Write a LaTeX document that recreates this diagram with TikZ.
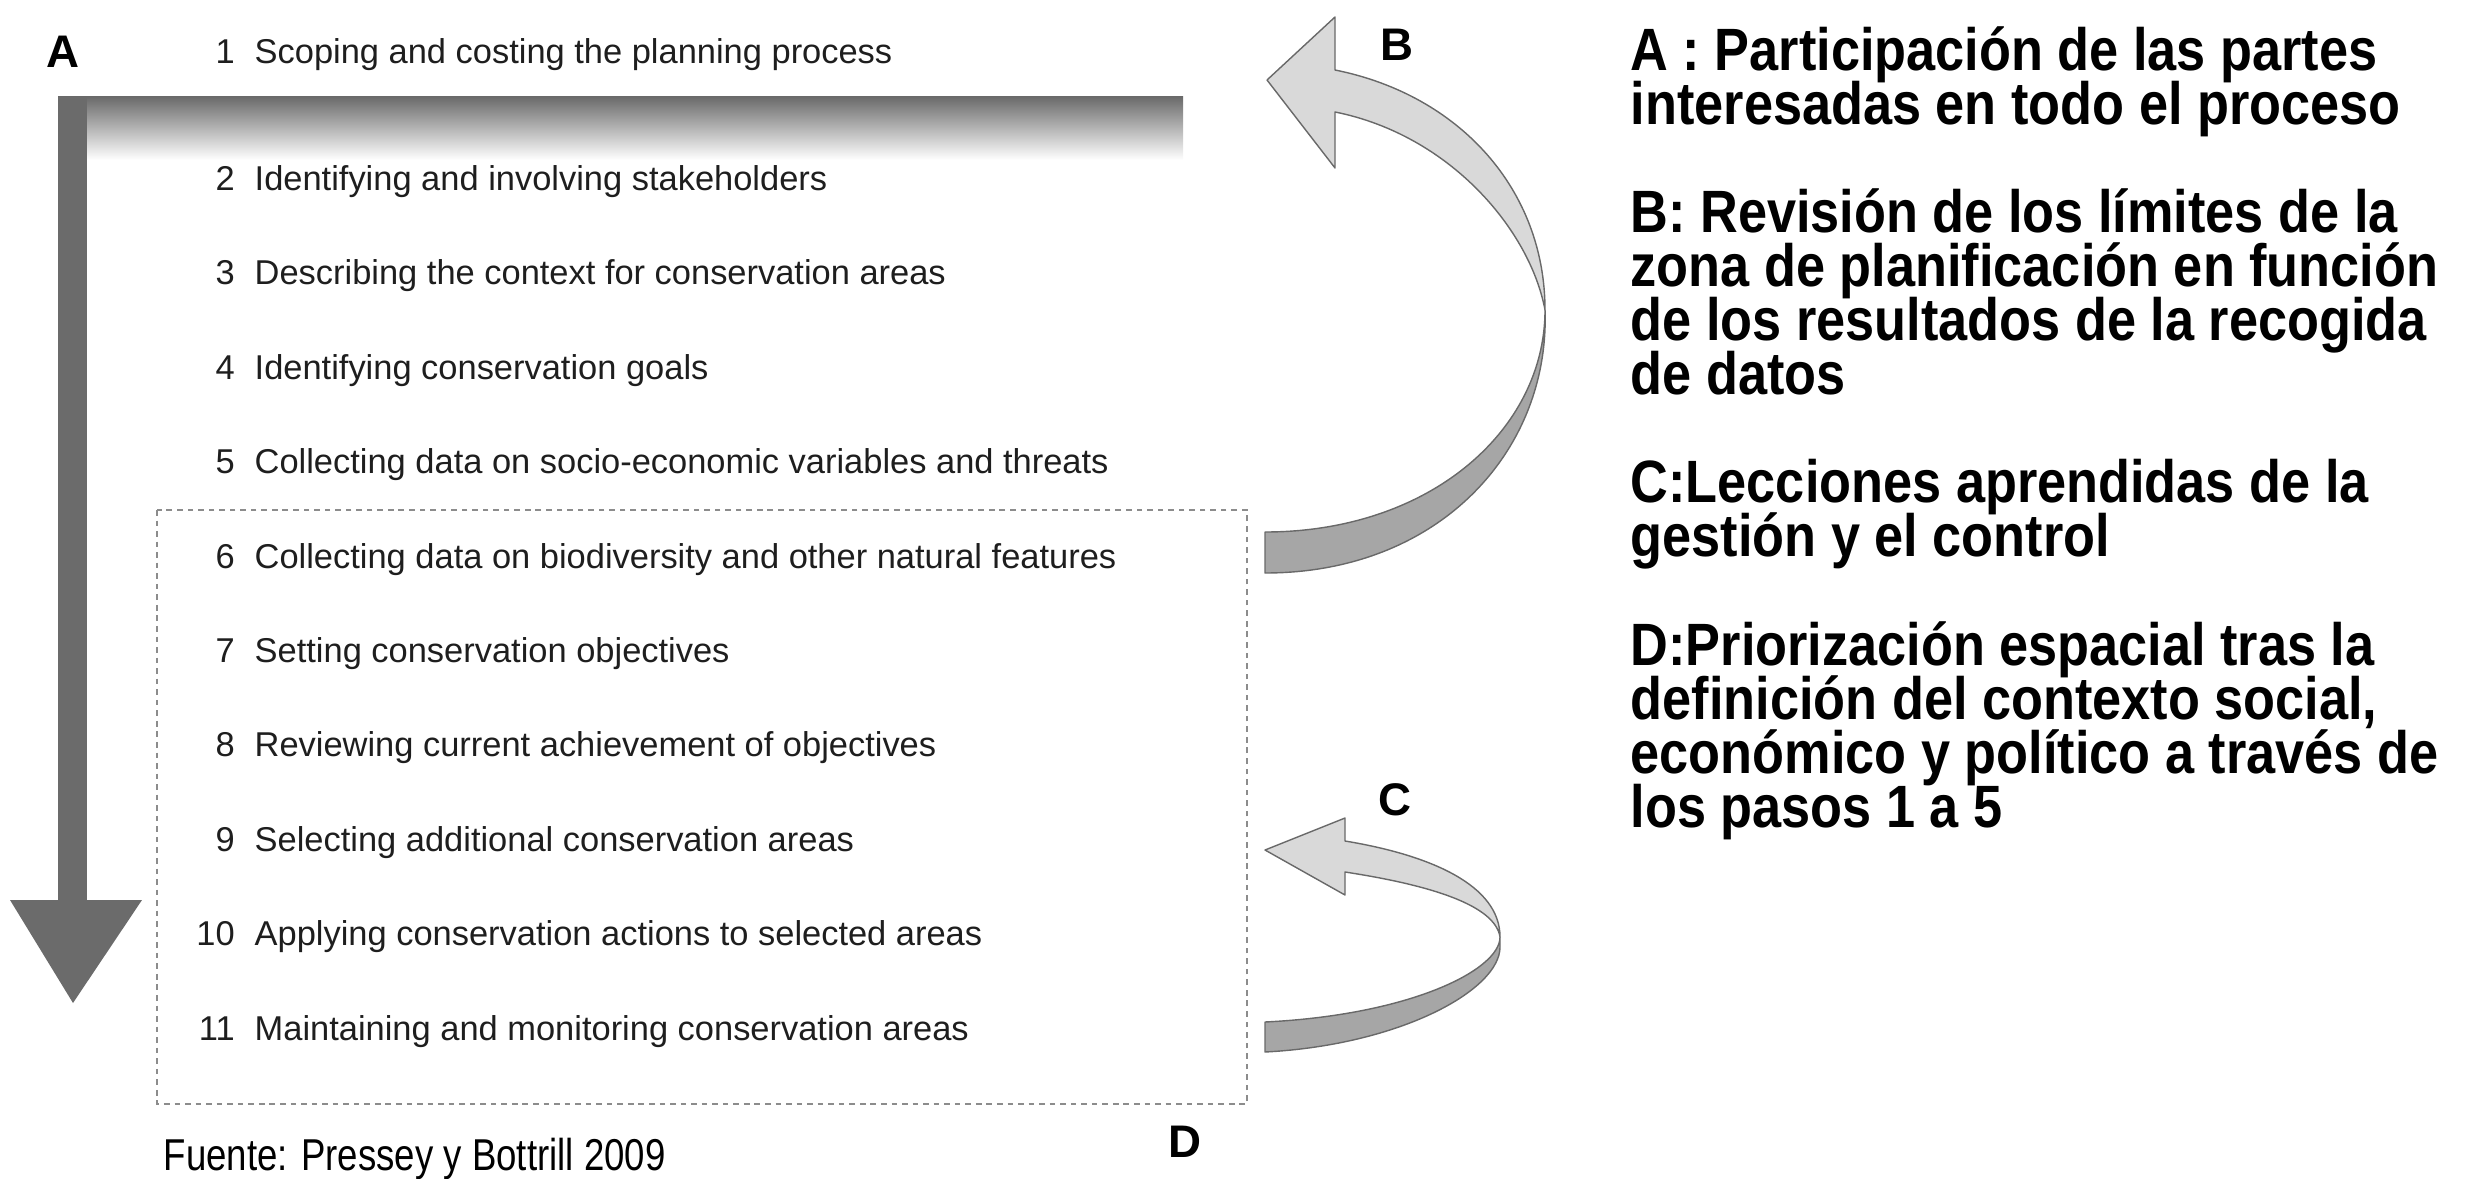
\documentclass[tikz,border=0pt]{standalone}
\usepackage{fontspec}
\setmainfont{Liberation Sans}
\newfontfamily\narrowfont[FakeStretch=0.82]{Liberation Sans}
\newfontfamily\notesfont[FakeStretch=0.875]{Liberation Sans}
\usetikzlibrary{positioning}

\definecolor{flowGray}{RGB}{107,107,107}
\definecolor{loopLight}{RGB}{217,217,217}
\definecolor{loopDark}{RGB}{166,166,166}
\definecolor{loopEdge}{RGB}{105,105,105}
\definecolor{boxEdge}{RGB}{140,140,140}
\definecolor{stepText}{RGB}{30,30,30}
\newcommand{\stepno}[1]{\makebox[0.34cm][r]{#1}\hspace{0.2cm}}
\newcommand{\notefont}{\notesfont\bfseries\fontsize{17}{15.4}\selectfont\lineskiplimit=-100pt\relax}

\begin{document}
\begin{tikzpicture}[>=latex,
  stepitem/.style={anchor=base west, inner sep=0pt, text=stepText, font=\fontsize{9.8}{11}\selectfont},
  letter/.style={inner sep=0pt, font=\fontsize{13}{15}\selectfont\bfseries},
  ribbon/.style={draw=loopEdge, line width=0.4pt, line join=round},
  notes/.style={anchor=north west, inner sep=0pt, align=left, font=\notefont}]
\useasboundingbox (0,0) rectangle (24.66,-11.78);

% main flow arrow (A)
\shade[top color=flowGray, middle color=flowGray!45, bottom color=white] (0.58,-0.97) rectangle (11.83,-1.60);
\fill[flowGray] (0.58,-0.97) rectangle (0.87,-9.0);
\fill[flowGray] (0.10,-9.0) -- (1.42,-9.0) -- (0.73,-10.03) -- cycle;

% dotted frame around steps 6-11
\draw[boxEdge, line width=0.5pt, dash pattern=on 1.6pt off 1.4pt] (1.57,-5.10) rectangle (12.47,-11.04);

\node[stepitem] (s1) at (2.0,-0.64) {\stepno{1}Scoping and costing the planning process};
\node[stepitem] (s2) at (2.0,-1.90) {\stepno{2}Identifying and involving stakeholders};
\node[stepitem] (s3) at (2.0,-2.84) {\stepno{3}Describing the context for conservation areas};
\node[stepitem] (s4) at (2.0,-3.79) {\stepno{4}Identifying conservation goals};
\node[stepitem] (s5) at (2.0,-4.73) {\stepno{5}Collecting data on socio-economic variables and threats};
\node[stepitem] (s6) at (2.0,-5.68) {\stepno{6}Collecting data on biodiversity and other natural features};
\node[stepitem] (s7) at (2.0,-6.62) {\stepno{7}Setting conservation objectives};
\node[stepitem] (s8) at (2.0,-7.56) {\stepno{8}Reviewing current achievement of objectives};
\node[stepitem] (s9) at (2.0,-8.51) {\stepno{9}Selecting additional conservation areas};
\node[stepitem] (s10) at (2.0,-9.45) {\stepno{10}Applying conservation actions to selected areas};
\node[stepitem] (s11) at (2.0,-10.40) {\stepno{11}Maintaining and monitoring conservation areas};

% feedback loop B
\filldraw[ribbon, fill=loopDark] (15.45,-3.10) .. controls (15.45,-4.3) and (14.3,-5.32) .. (12.65,-5.32)
  -- (12.65,-5.73) .. controls (14.4,-5.73) and (15.5,-4.5) .. (15.45,-3.10) -- cycle;
\filldraw[ribbon, fill=loopLight] (13.35,-0.70) .. controls (14.6,-0.95) and (15.45,-1.9) .. (15.45,-3.10)
  .. controls (15.3,-2.3) and (14.5,-1.35) .. (13.35,-1.12)
  -- (13.35,-1.68) -- (12.67,-0.80) -- (13.35,-0.17) -- cycle;

% feedback loop C
\filldraw[ribbon, fill=loopDark] (15.0,-9.37) .. controls (15.0,-9.7) and (14.1,-10.15) .. (12.65,-10.22)
  -- (12.65,-10.52) .. controls (14.0,-10.45) and (15.0,-9.9) .. (15.0,-9.47) -- cycle;
\filldraw[ribbon, fill=loopLight] (13.45,-8.41) .. controls (14.3,-8.55) and (15.0,-8.85) .. (15.0,-9.37)
  .. controls (14.95,-9.05) and (14.3,-8.85) .. (13.45,-8.72)
  -- (13.45,-8.95) -- (12.65,-8.50) -- (13.45,-8.18) -- cycle;

\node[letter] (la) at (0.63,-0.52) {A};
\node[letter] (lb) at (13.97,-0.45) {B};
\node[letter] (lc) at (13.95,-8.00) {C};
\node[letter] (ld) at (11.85,-11.42) {D};

\node[anchor=base west, inner sep=0pt, font=\narrowfont\fontsize{12.7}{14}\selectfont] (src) at (1.63,-11.70)
  {Fuente: Pressey y Bottrill 2009};

\node[notes] (na) at (16.30,-0.255) {A : Participación de las partes\\interesadas en todo el proceso};
\node[notes] (nb) at (16.30,-1.875) {B: Revisión de los límites de la\\zona de planificación en función\\de los resultados de la recogida\\de datos};
\node[notes] (nc) at (16.30,-4.585) {C:Lecciones aprendidas de la\\gestión y el control};
\node[notes] (nd) at (16.30,-6.205) {D:Priorización espacial tras la\\definición del contexto social,\\económico y político a través de\\los pasos 1 a 5};
\end{tikzpicture}
\end{document}
